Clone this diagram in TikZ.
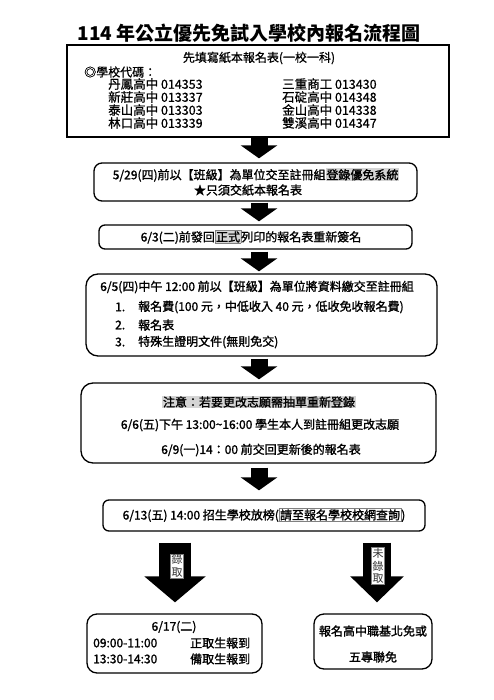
\documentclass[tikz,border=0pt]{standalone}
\usepackage{fontspec}
\setmainfont{Noto Sans CJK TC}
\newfontfamily\medfont[FakeBold=1.4]{Noto Sans CJK TC}
\newfontfamily\lightfont[FakeBold=0.7]{Noto Sans CJK TC}
\usetikzlibrary{arrows.meta}
\definecolor{hl}{gray}{0.83}
\newcommand{\hlt}[1]{{\setlength{\fboxsep}{0.8pt}\colorbox{hl}{#1}}}
\newcommand{\hlf}[1]{{\setlength{\fboxsep}{0.8pt}\setlength{\fboxrule}{0.4pt}\fcolorbox{gray}{hl}{#1}}}
\newcommand{\olf}[1]{{\setlength{\fboxsep}{0.8pt}\setlength{\fboxrule}{0.4pt}\fcolorbox{gray}{white}{#1}}}
\tikzset{
  box/.style={draw, line width=1.3pt, rounded corners=8pt, inner sep=0pt},
  sqbox/.style={draw, line width=1.6pt, inner sep=0pt},
  txt/.style={inner sep=0pt, font=\medfont\fontsize{12}{14}\selectfont},
  ltxt/.style={inner sep=0pt, font=\lightfont\fontsize{12}{14}\selectfont},
  codetxt/.style={inner sep=0pt, anchor=west, font=\lightfont\fontsize{12.5}{14}\selectfont},
  flowarrow/.style={line width=17pt, -{Triangle[width=36pt,length=13pt]}},
  bigarrow/.style={line width=32pt, -{Triangle[width=60pt,length=26pt]}},
  tag/.style={draw=gray, fill=white, line width=0.4pt, inner sep=1pt, align=center,
    text=black!80, font=\fontsize{11}{12.5}\selectfont}
}
\begin{document}
\begin{tikzpicture}[x=1pt,y=-1pt]
\useasboundingbox (0,0) rectangle (494,700);
% title
\node[inner sep=0pt, font=\fontsize{19}{22}\selectfont\bfseries] (title) at (249,33) {114 年公立優先免試入學校內報名流程圖};
% box 1
\node[sqbox, minimum width=382pt, minimum height=92pt] (b1) at (258,91) {};
\node[ltxt] (b1t) at (259,58) {先填寫紙本報名表(一校一科)};
\node[ltxt, anchor=west] (b1c) at (84,72) {◎學校代碼：};
\node[codetxt] (s1) at (108,84) {丹鳳高中 014353};
\node[codetxt] (s2) at (108,97) {新莊高中 013337};
\node[codetxt] (s3) at (108,110) {泰山高中 013303};
\node[codetxt] (s4) at (108,123) {林口高中 013339};
\node[codetxt] (s5) at (282,84) {三重商工 013430};
\node[codetxt] (s6) at (282,97) {石碇高中 014348};
\node[codetxt] (s7) at (282,110) {金山高中 014338};
\node[codetxt] (s8) at (282,123) {雙溪高中 014347};
% box 2
\node[box, minimum width=323pt, minimum height=38pt] (b2) at (255.5,182) {};
\node[txt] (b2a) at (256,175) {5/29(四)前以【班級】為單位交至註冊組\hlt{登錄優免系統}};
\node[txt] (b2b) at (248,190) {★只須交紙本報名表};
% box 3
\node[box, minimum width=313pt, minimum height=24pt, rounded corners=6pt] (b3) at (255.5,237) {};
\node[txt] (b3a) at (251,237) {6/3(二)前發回\hlf{正式}列印的報名表重新簽名};
% box 4
\node[box, minimum width=351pt, minimum height=82pt, rounded corners=12pt] (b4) at (261.5,315) {};
\node[txt] (b4a) at (257,287) {6/5(四)中午 12:00 前以【班級】為單位將資料繳交至註冊組};
\node[txt, anchor=west] (n1) at (115,307) {1.};
\node[txt, anchor=west] (i1) at (138,307) {報名費(100 元，中低收入 40 元，低收免收報名費)};
\node[txt, anchor=west] (n2) at (115,325) {2.};
\node[txt, anchor=west] (i2) at (138,325) {報名表};
\node[txt, anchor=west] (n3) at (115,342) {3.};
\node[txt, anchor=west] (i3) at (138,342) {特殊生證明文件(無則免交)};
% box 5
\node[box, minimum width=355pt, minimum height=80pt, rounded corners=12pt] (b5) at (258.5,423) {};
\node[txt] (b5a) at (259,402) {\hlt{注意：若要更改志願需抽單重新登錄}};
\node[txt] (b5b) at (260,425) {6/6(五)下午 13:00\textasciitilde 16:00 學生本人到註冊組更改志願};
\node[txt] (b5c) at (261,450) {6/9(一)14：00 前交回更新後的報名表};
% box 6
\node[box, minimum width=322pt, minimum height=31pt, rounded corners=6pt] (b6) at (264,515.5) {};
\node[txt] (b6a) at (264,515) {6/13(五) 14:00 招生學校放榜(\olf{請至報名學校校網查詢})};
% box 7
\node[box, minimum width=175pt, minimum height=59pt, rounded corners=10pt] (b7) at (174.5,643.5) {};
\node[txt] (b7a) at (174,627) {6/17(二)};
\node[txt, anchor=west] (b7b) at (93,643) {09:00-11:00};
\node[txt, anchor=west] (b7c) at (190,643) {正取生報到};
\node[txt, anchor=west] (b7d) at (93,659) {13:30-14:30};
\node[txt, anchor=west] (b7e) at (190,659) {備取生報到};
% box 8
\node[box, minimum width=118pt, minimum height=55pt, rounded corners=10pt] (b8) at (373,641.5) {};
\node[txt] (b8a) at (373,631) {報名高中職基北免或};
\node[txt] (b8b) at (373,657) {五專聯免};
% arrows
\coordinate (ax) at (259,0);
\coordinate (lx) at (175,0);
\coordinate (rx) at (377,0);
\draw[flowarrow, shorten >=4pt] (b1.south -| ax) -- (b2.north -| ax);
\draw[flowarrow, shorten <=1pt, shorten >=3pt] (b2.south -| ax) -- (b3.north -| ax);
\draw[flowarrow, shorten <=2pt, shorten >=2pt] (b3.south -| ax) -- (b4.north -| ax);
\draw[flowarrow, shorten <=2pt, shorten >=3pt] (b4.south -| ax) -- (b5.north -| ax);
\draw[flowarrow, shorten <=4pt, shorten >=9pt] (b5.south -| ax) -- (b6.north -| ax);
\draw[bigarrow, shorten <=11pt, shorten >=11pt] (b6.south -| lx) -- (b7.north -| lx);
\draw[bigarrow, line width=28pt, -{Triangle[width=52pt,length=26pt]}, shorten <=11pt, shorten >=11pt] (b6.south -| rx) -- (b8.north -| rx);
\node[tag] (t1) at (177,566) {錄\\取};
\node[tag] (t2) at (378,566) {未\\錄\\取};
\end{tikzpicture}
\end{document}
